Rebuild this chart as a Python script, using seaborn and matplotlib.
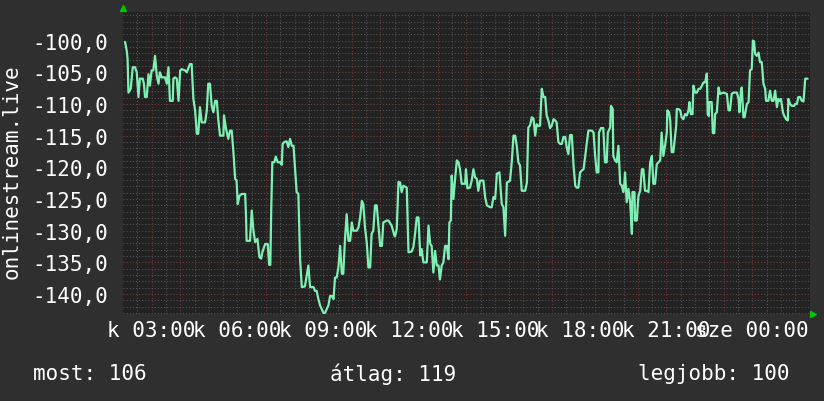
import matplotlib
matplotlib.use("Agg")
import matplotlib.pyplot as plt
from matplotlib.ticker import MultipleLocator, FuncFormatter
import pandas as pd
import seaborn as sns

# signal level over one day, hours counted from midnight of day one
hours = [
    2.07, 2.13, 2.16, 2.19, 2.27, 2.34, 2.42, 2.48, 2.54, 2.59,
    2.69, 2.73, 2.77, 2.83, 2.89, 2.94, 3.00, 3.06, 3.12, 3.18,
    3.24, 3.29, 3.35, 3.47, 3.53, 3.59, 3.64, 3.74, 3.76, 3.82,
    3.88, 3.94, 4.00, 4.05, 4.17, 4.23, 4.34, 4.40, 4.46, 4.52,
    4.58, 4.63, 4.69, 4.75, 4.87, 4.93, 4.98, 5.04, 5.10, 5.16,
    5.22, 5.28, 5.33, 5.39, 5.51, 5.53, 5.60, 5.68, 5.74, 5.80,
    5.86, 5.92, 5.97, 6.01, 6.07, 6.15, 6.27, 6.30, 6.32, 6.44,
    6.50, 6.56, 6.62, 6.70, 6.77,
    6.83, 6.87, 6.97, 7.06, 7.11, 7.15, 7.18, 7.22, 7.29, 7.34,
    7.41, 7.49, 7.55, 7.58, 7.64, 7.72, 7.78, 7.84, 7.90, 7.96,
    8.02, 8.07, 8.13, 8.19, 8.25, 8.36, 8.42, 8.48, 8.54, 8.66,
    8.71, 8.77, 8.83, 8.89, 8.95, 9.01, 9.06, 9.12, 9.18, 9.24,
    9.30, 9.36, 9.41, 9.47, 9.53, 9.59, 9.65, 9.70, 9.76, 9.82,
    9.88, 9.94, 10.00, 10.05, 10.17, 10.23, 10.29, 10.35, 10.40, 10.46,
    10.52, 10.58, 10.64, 10.69, 10.75, 10.81, 10.87, 10.93, 10.99, 11.05,
    11.10, 11.22, 11.28, 11.39, 11.49,
    11.51, 11.57, 11.63, 11.69, 11.74, 11.80, 11.92, 11.98, 12.09, 12.15,
    12.21, 12.27, 12.33, 12.39, 12.44, 12.50, 12.62, 12.68, 12.74, 12.79,
    12.85, 12.91, 12.97, 13.03, 13.08, 13.14, 13.20, 13.26, 13.32, 13.38,
    13.41, 13.46, 13.49, 13.55, 13.61, 13.67, 13.73, 13.78, 13.84, 13.96,
    13.99, 14.04, 14.13, 14.19, 14.25, 14.31, 14.37, 14.42, 14.48, 14.60,
    14.66, 14.72, 14.83, 14.89, 14.95, 15.01, 15.07, 15.16, 15.24, 15.30,
    15.36, 15.42, 15.53, 15.59, 15.65, 15.71, 15.77, 15.82, 15.88, 15.94,
    16.06, 16.12, 16.17, 16.23,
    16.29, 16.35, 16.41, 16.46, 16.52, 16.58, 16.64, 16.70, 16.76, 16.81,
    16.87, 16.93, 16.99, 17.05, 17.11, 17.16, 17.22, 17.28, 17.34, 17.40,
    17.46, 17.51, 17.57, 17.63, 17.69, 17.75, 17.81, 17.86, 17.92, 17.98,
    18.04, 18.10, 18.16, 18.21, 18.27, 18.39, 18.45, 18.50, 18.56, 18.62,
    18.64, 18.71, 18.79, 18.85, 18.91, 18.95, 19.03, 19.06, 19.12, 19.14,
    19.20, 19.26, 19.32, 19.38, 19.44, 19.49, 19.53, 19.55, 19.61, 19.67,
    19.73, 19.79, 19.81, 19.88, 19.90, 19.96, 20.02, 20.08, 20.14, 20.19,
    20.25, 20.31, 20.37, 20.43, 20.49, 20.54, 20.60, 20.66, 20.72, 20.78,
    20.83, 20.89, 20.95,
    21.01, 21.03, 21.09, 21.13, 21.18, 21.24, 21.30, 21.34, 21.36, 21.42,
    21.48, 21.53, 21.59, 21.65, 21.71, 21.77, 21.80, 21.85, 21.91, 21.94,
    22.00, 22.06, 22.12, 22.18, 22.23, 22.29, 22.35, 22.41, 22.44, 22.48,
    22.50, 22.58, 22.62, 22.67, 22.70, 22.76, 22.82, 22.87, 22.99, 23.11,
    23.17, 23.22, 23.28, 23.34, 23.46, 23.52, 23.55, 23.60, 23.63, 23.69,
    23.73, 23.81, 23.87, 23.92, 23.98, 24.02, 24.06, 24.10, 24.16, 24.22,
    24.27, 24.33, 24.39, 24.45, 24.48, 24.56, 24.62, 24.68, 24.74, 24.80,
    24.86, 24.91, 24.95, 25.00, 25.07, 25.11, 25.18, 25.24, 25.26, 25.32,
    25.38, 25.46, 25.50, 25.56, 25.61, 25.67, 25.73, 25.79, 25.85, 25.93,
]

level = [
    -100.2, -101.6, -102.9, -108.2, -107.6, -104.2, -104.2, -105.0, -108.9, -106.0,
    -106.0, -106.8, -108.9, -108.9, -105.3, -107.1, -104.7, -104.7, -102.4, -105.5,
    -106.8, -105.0, -105.8, -105.8, -106.8, -104.2, -109.5, -109.5, -106.0, -105.8,
    -106.0, -109.5, -104.7, -104.5, -104.7, -105.0, -103.7, -103.7, -109.2, -111.0,
    -114.7, -114.7, -110.5, -112.9, -112.9, -111.0, -106.8, -106.8, -110.3, -111.3,
    -109.5, -109.5, -112.4, -115.0, -115.0, -111.8, -113.9, -115.5, -114.2, -114.2,
    -117.6, -121.8, -122.1, -125.8, -124.5, -124.2, -124.2, -127.6, -131.6, -131.6,
    -126.8, -130.0, -131.8, -131.3, -134.2,
    -134.4, -133.4, -132.1, -132.1, -135.4, -135.4, -127.0, -119.2, -119.2, -118.3,
    -119.2, -119.2, -119.6, -116.3, -116.0, -115.9, -116.8, -115.5, -116.6, -116.6,
    -120.5, -123.9, -124.2, -134.5, -138.9, -138.8, -137.1, -135.5, -138.9, -138.9,
    -139.5, -139.5, -140.8, -141.8, -142.4, -143.0, -143.0, -142.4, -141.8, -140.3,
    -140.3, -140.8, -137.4, -137.4, -135.8, -132.4, -136.8, -136.8, -131.3, -127.4,
    -131.6, -131.6, -128.7, -130.0, -130.0, -129.5, -127.9, -125.3, -125.8, -129.5,
    -131.8, -135.8, -135.8, -130.5, -130.0, -126.0, -126.0, -129.2, -132.4, -132.4,
    -128.7, -128.4, -128.4, -129.2, -130.8,
    -130.9, -129.7, -122.3, -122.4, -123.9, -122.9, -123.2, -133.4, -133.3, -132.6,
    -130.5, -127.9, -127.9, -133.9, -132.9, -135.0, -135.0, -129.2, -132.1, -132.4,
    -136.6, -133.2, -135.5, -135.5, -137.7, -135.5, -135.0, -132.4, -132.4, -134.5,
    -128.7, -128.4, -121.3, -125.0, -121.8, -118.9, -119.2, -120.3, -122.6, -122.6,
    -120.3, -123.3, -123.2, -122.1, -120.3, -121.6, -121.8, -123.7, -122.1, -122.1,
    -124.7, -126.0, -126.3, -126.3, -124.7, -125.0, -121.0, -120.8, -125.8, -126.3,
    -130.8, -122.4, -122.1, -119.2, -115.0, -115.0, -116.8, -119.2, -119.7, -123.7,
    -123.7, -122.4, -113.7, -113.4,
    -112.1, -112.3, -115.0, -113.2, -113.5, -113.4, -107.6, -108.9, -108.9, -111.8,
    -112.6, -113.8, -113.4, -112.4, -112.6, -112.9, -116.0, -116.3, -116.3, -115.2,
    -115.2, -116.8, -117.9, -114.9, -114.9, -119.7, -122.9, -123.2, -123.2, -120.8,
    -120.5, -120.3, -118.2, -116.3, -114.2, -114.2, -114.5, -117.9, -120.8, -120.8,
    -114.5, -113.8, -113.8, -119.2, -119.2, -114.5, -113.7, -110.3, -110.8, -118.2,
    -118.9, -119.2, -116.6, -122.6, -122.9, -123.9, -122.4, -120.8, -125.5, -123.4,
    -125.5, -130.5, -123.9, -123.9, -128.4, -128.4, -124.5, -123.7, -120.3, -120.3,
    -123.7, -123.7, -123.9, -119.2, -118.2, -122.6, -122.6, -119.5, -119.2, -118.9,
    -114.5, -118.2, -116.6,
    -114.5, -111.0, -111.3, -112.6, -117.6, -117.6, -115.0, -113.4, -110.8, -110.8,
    -111.0, -112.1, -112.4, -111.6, -111.8, -111.0, -109.7, -111.6, -111.6, -107.1,
    -108.2, -108.2, -107.6, -107.6, -107.2, -106.6, -106.6, -105.2, -111.6, -111.9,
    -109.7, -109.7, -114.6, -114.6, -111.6, -111.3, -107.4, -108.4, -108.2, -108.4,
    -111.0, -111.0, -108.4, -108.2, -108.2, -109.2, -111.3, -108.2, -107.4, -112.1,
    -112.1, -110.0, -109.7, -104.7, -104.5, -100.0, -100.1, -102.1, -102.4, -101.9,
    -103.4, -103.4, -106.8, -107.6, -109.5, -109.5, -107.9, -109.5, -109.5, -107.9,
    -110.5, -109.2, -109.5, -109.2, -111.3, -111.8, -112.4, -112.6, -109.2, -110.0,
    -110.3, -110.3, -110.0, -110.0, -108.9, -108.9, -109.5, -109.6, -106.0, -106.0,
]

label_hours = [3, 6, 9, 12, 15, 18, 21, 24]
label_texts = ["k 03:00", "k 06:00", "k 09:00", "k 12:00",
               "k 15:00", "k 18:00", "k 21:00", "sze 00:00"]
series_name = "onlinestream.live"
summary = ["most: 106", "átlag: 119", "legjobb: 100"]

BG = "#2f2f2f"
PLOT_BG = "#222222"
MINOR = "#575757"
MAJOR = "#783838"
LINE = "#7ef0b4"
ARROW = "#00c800"

sns.set_theme(style="dark", rc={"axes.facecolor": PLOT_BG, "figure.facecolor": BG,
                                "text.color": "white", "xtick.color": "white",
                                "ytick.color": "white"})
plt.rcParams["font.family"] = ["DejaVu Sans Mono"]

W, H = 824, 402
fig = plt.figure(figsize=(W / 100, H / 100), dpi=100)
ax = fig.add_axes([123.5 / W, 1 - 315 / H, 686.5 / W, 302.5 / H])

df = pd.DataFrame({"hour": hours, "level": level})
sns.lineplot(data=df, x="hour", y="level", ax=ax, color=LINE, linewidth=1.6,
             sort=False, estimator=None, zorder=3)

ax.set_xlim(2.017, 26.017)
ax.set_ylim(-143.15, -95.4)

# red lines every hour / 5 units, grey dotted every half hour / 1 unit
ax.xaxis.set_major_locator(MultipleLocator(1))
ax.xaxis.set_minor_locator(MultipleLocator(0.5))
ax.yaxis.set_major_locator(MultipleLocator(5))
ax.yaxis.set_minor_locator(MultipleLocator(1))
ax.grid(which="minor", color=MINOR, linestyle=(0, (1, 2)), linewidth=0.75, zorder=1)
ax.grid(which="major", color=MAJOR, linestyle=(0, (1, 2)), linewidth=0.75, zorder=2)
ax.set_axisbelow(True)

names = dict(zip(label_hours, label_texts))


def hour_label(x, pos):
    r = int(round(x))
    if abs(x - r) > 1e-6:
        return ""
    return names.get(r, "")


ax.xaxis.set_major_formatter(FuncFormatter(hour_label))
ax.yaxis.set_major_formatter(FuncFormatter(lambda v, pos: f"{v:.1f}".replace(".", ",")))

ax.tick_params(axis="x", which="major", length=3, width=1, direction="in",
               color="#a03030", pad=4, labelsize=15)
ax.tick_params(axis="x", which="minor", length=2, width=1, direction="in",
               color="#606060")
ax.tick_params(axis="y", which="both", length=0, pad=11, labelsize=15)

for s in ax.spines.values():
    s.set_visible(False)
ax.set_xlabel("")
ax.set_ylabel("")

# little green arrow heads at the end of each axis
ax.plot([0], [1.012], marker="^", markersize=5, color=ARROW,
        transform=ax.transAxes, clip_on=False)
ax.plot([1.005], [0], marker=">", markersize=5, color=ARROW,
        transform=ax.transAxes, clip_on=False)

fig.text(12 / W, 1 - 172 / H, series_name, rotation=90, ha="center", va="center",
         fontsize=15, color="white")

fig.text(33 / W, 1 - 374 / H, summary[0], ha="left", va="center", fontsize=15, color="white")
fig.text(330 / W, 1 - 374 / H, summary[1], ha="left", va="center", fontsize=15, color="white")
fig.text(790 / W, 1 - 374 / H, summary[2], ha="right", va="center", fontsize=15, color="white")

fig.savefig("out.png", dpi=100, facecolor=BG)
